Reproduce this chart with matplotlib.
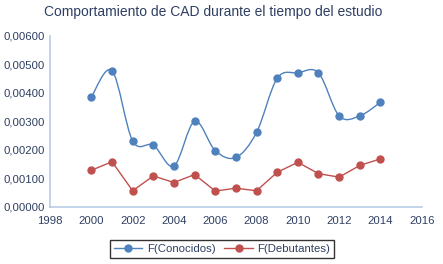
import numpy as np
import matplotlib
matplotlib.use('Agg')
import matplotlib.pyplot as plt
from matplotlib.path import Path
from matplotlib.patches import PathPatch
from matplotlib.lines import Line2D

plt.rcParams['font.family'] = ['Liberation Sans', 'DejaVu Sans']

years = [2000, 2001, 2002, 2003, 2004, 2005, 2006, 2007, 2008,
         2009, 2010, 2011, 2012, 2013, 2014]
conocidos = [0.00385, 0.00478, 0.00231, 0.00216, 0.00143, 0.00300, 0.00197,
             0.00173, 0.00261, 0.00451, 0.00470, 0.00470, 0.00319, 0.00319,
             0.00367]
debutantes = [0.00128, 0.00158, 0.00056, 0.00108, 0.00085, 0.00113, 0.00055,
              0.00065, 0.00056, 0.00121, 0.00156, 0.00116, 0.00104, 0.00145,
              0.00168]

BLUE = '#4F81BD'
RED = '#C0504D'
TXT = '#2E3F63'
AX = '#B9CDE5'


def smooth_path(x, y):
    # excel-like smoothed line: cubic bezier segments, catmull-rom tangents
    x = np.asarray(x, float)
    y = np.asarray(y, float)
    verts = [(x[0], y[0])]
    codes = [Path.MOVETO]
    n = len(x)
    for i in range(n - 1):
        p0 = i - 1 if i > 0 else i
        p3 = i + 2 if i + 2 < n else i + 1
        c1 = (x[i] + (x[i + 1] - x[p0]) / 6, y[i] + (y[i + 1] - y[p0]) / 6)
        c2 = (x[i + 1] - (x[p3] - x[i]) / 6, y[i + 1] - (y[p3] - y[i]) / 6)
        verts += [c1, c2, (x[i + 1], y[i + 1])]
        codes += [Path.CURVE4] * 3
    return Path(verts, codes)


fig = plt.figure(figsize=(4.43, 2.64), dpi=100)
ax = fig.add_axes([0.113, 0.217, 0.839, 0.647])

ax.add_patch(PathPatch(smooth_path(years, conocidos), fill=False,
                       edgecolor=BLUE, lw=1.0))
ax.plot(years, conocidos, 'o', color=BLUE, ms=5, mec=BLUE)
ax.plot(years, debutantes, '-o', color=RED, lw=1.0, ms=5)

ax.set_xlim(1998, 2016)
ax.set_ylim(0, 0.006)
ax.set_xticks(range(1998, 2017, 2))
yt = np.arange(0, 0.0061, 0.001)
ax.set_yticks(yt)
ax.set_yticklabels(['{:.5f}'.format(v).replace('.', ',') for v in yt])
ax.tick_params(length=0, labelsize=8.2, colors=TXT)
ax.tick_params(axis='x', pad=7)
ax.tick_params(axis='y', pad=4)
for s in ['top', 'right']:
    ax.spines[s].set_visible(False)
for s in ['left', 'bottom']:
    ax.spines[s].set_color(AX)
    ax.spines[s].set_linewidth(1.2)

fig.text(0.482, 0.953, 'Comportamiento de CAD durante el tiempo del estudio',
         ha='center', va='center', fontsize=10, color=TXT)

h1 = Line2D([], [], color=BLUE, marker='o', ms=5, lw=1.0)
h2 = Line2D([], [], color=RED, marker='o', ms=5, lw=1.0)
leg = fig.legend([h1, h2], ['F(Conocidos)', 'F(Debutantes)'], loc='center',
                 bbox_to_anchor=(0.501, 0.058), ncol=2, fontsize=8.2,
                 frameon=True, fancybox=False, handlelength=2.5,
                 borderpad=0.35, columnspacing=0.8, handletextpad=0.4)
leg.get_frame().set_edgecolor('black')
leg.get_frame().set_linewidth(1.0)
for t in leg.get_texts():
    t.set_color(TXT)

fig.savefig('out.png', dpi=100)
